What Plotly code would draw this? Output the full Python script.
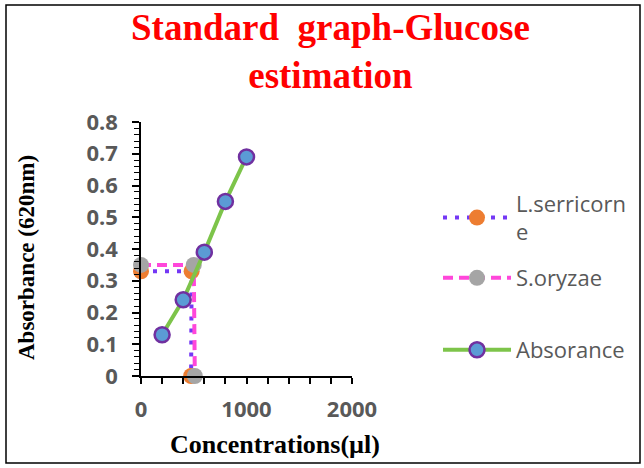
import plotly.graph_objects as go

# Data
lser_x = [0, 480, 475]
lser_y = [0.33, 0.33, 0]
sory_x = [0, 500, 510]
sory_y = [0.35, 0.35, 0]
abs_x = [200, 400, 600, 800, 1000]
abs_y = [0.13, 0.24, 0.39, 0.55, 0.69]

W, H = 644, 468
L, R, T, B = 141, 292, 122, 92
pw, ph = W - L - R, H - T - B

def px(x):
    return (x - L) / pw

def py(y):
    return (H - B - y) / ph

fig = go.Figure()
fig.add_trace(go.Scatter(
    x=lser_x, y=lser_y, name="L.serricorn<br>e", mode="lines+markers",
    line=dict(color="#7438F5", width=4, dash="4px,8px"),
    marker=dict(color="#ED7D31", size=16, line=dict(width=0)),
    cliponaxis=False, legend="legend"))
fig.add_trace(go.Scatter(
    x=sory_x, y=sory_y, name="S.oryzae", mode="lines+markers",
    line=dict(color="#FF47DA", width=4, dash="10px,6px"),
    marker=dict(color="#A5A5A5", size=16, line=dict(width=0)),
    cliponaxis=False, legend="legend2"))
fig.add_trace(go.Scatter(
    x=abs_x, y=abs_y, name="Absorance", mode="lines+markers",
    line=dict(color="#7DC44A", width=4),
    marker=dict(color="#5B9BD5", size=15, line=dict(color="#7030A0", width=2.5)),
    cliponaxis=False, legend="legend3"))

tickfont = dict(family="Open Sans", size=22, color="#595959", weight="bold")
legfont = dict(family="Open Sans", size=22, color="#595959")

fig.update_xaxes(range=[0, 2000], dtick=1000, showline=True, linecolor="black",
                 linewidth=1.5, ticks="outside", ticklen=6, tickcolor="black",
                 tickwidth=1.5, showgrid=False, zeroline=False, tickfont=tickfont,
                 ticklabelstandoff=7,
                 minor=dict(dtick=200, ticks="outside", ticklen=6, tickcolor="black",
                            tickwidth=1.5, showgrid=False))
fig.update_yaxes(range=[0, 0.8], dtick=0.1, showline=True,
                 linecolor="black", linewidth=1.5, ticks="outside", ticklen=7,
                 tickcolor="black", tickwidth=1.5, showgrid=False, zeroline=False,
                 tickfont=tickfont, ticklabelstandoff=10,
                 minor=dict(dtick=0.02, ticks="outside", ticklen=5, tickcolor="black",
                            tickwidth=1.2, showgrid=False))

leg_common = dict(xanchor="left", yanchor="middle", font=legfont,
                  bgcolor="rgba(0,0,0,0)", borderwidth=0, itemwidth=68)

fig.update_layout(
    width=W, height=H,
    margin=dict(l=L, r=R, t=T, b=B),
    paper_bgcolor="white", plot_bgcolor="white",
    showlegend=True,
    legend=dict(x=px(438), y=py(218), **leg_common),
    legend2=dict(x=px(438), y=py(278), **leg_common),
    legend3=dict(x=px(438), y=py(350), **leg_common),
    annotations=[
        dict(text="Standard  graph-Glucose<br>estimation", x=px(330), y=py(5),
             xref="paper", yref="paper",
             showarrow=False, xanchor="center", yanchor="top",
             font=dict(family="Liberation Serif", size=37, color="#FF0000", weight="bold")),
        dict(text="Concentrations(µl)", x=px(275), y=py(444), xref="paper", yref="paper",
             showarrow=False, xanchor="center", yanchor="middle",
             font=dict(family="Liberation Serif", size=26, color="black", weight="bold")),
        dict(text="Absorbance (620nm)", x=px(26), y=py(258), xref="paper", yref="paper",
             showarrow=False, xanchor="center", yanchor="middle", textangle=-90,
             font=dict(family="Liberation Serif", size=23, color="black", weight="bold")),
    ],
    shapes=[
        dict(type="rect", xref="paper", yref="paper",
             x0=px(6), x1=px(640), y0=py(463), y1=py(5),
             line=dict(color="black", width=1.5), fillcolor="rgba(0,0,0,0)", layer="below"),
    ],
)

fig.write_html("out.html")
